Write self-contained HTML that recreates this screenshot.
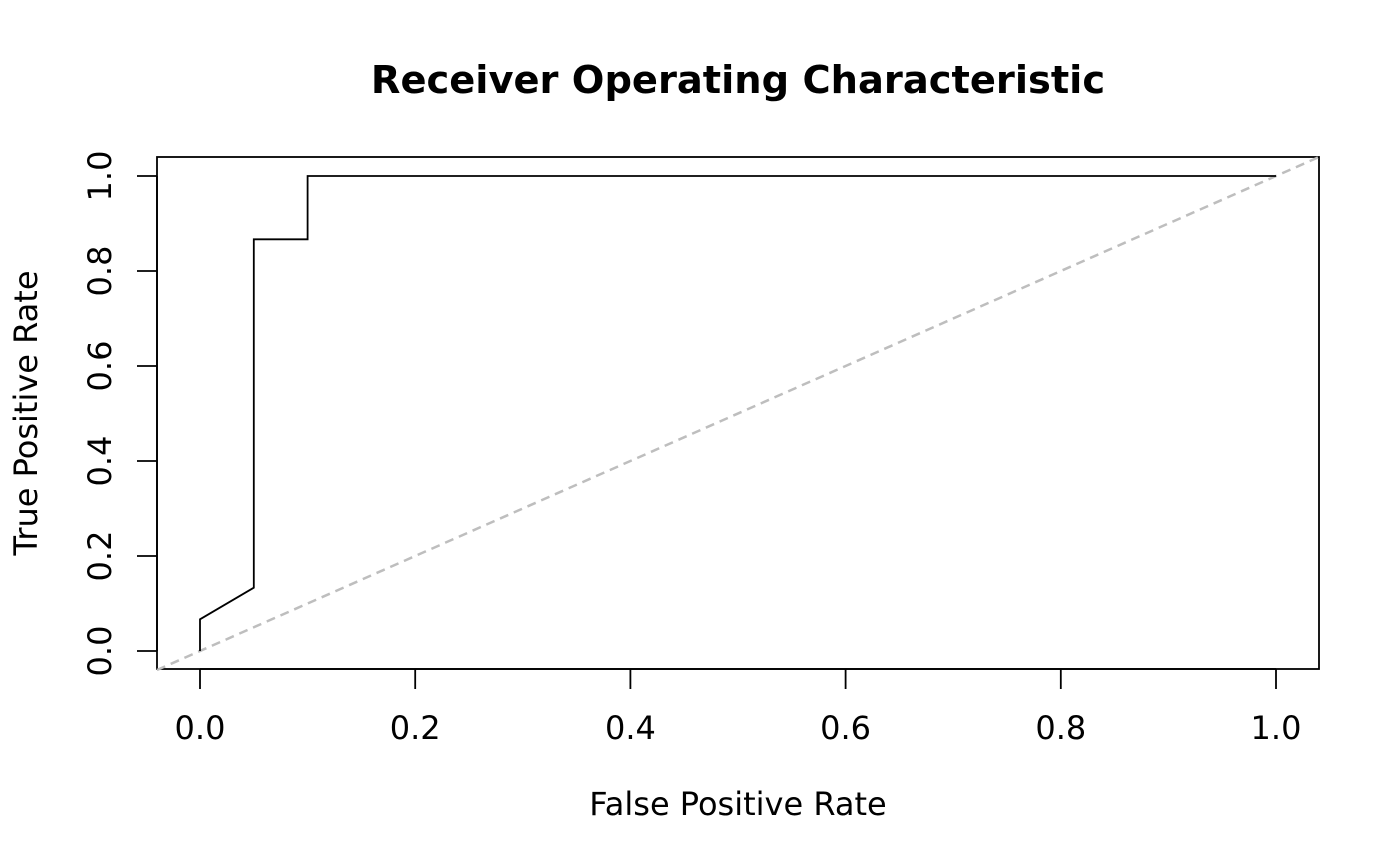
<!DOCTYPE html>
<html><head><meta charset="utf-8"><style>
html,body{margin:0;padding:0;background:#fff}
svg{display:block;font-family:"DejaVu Sans","Liberation Sans",sans-serif}
</style></head><body>
<svg id="chart" width="1400" height="866" viewBox="0 0 1400 866">
<text x="738" y="93" text-anchor="middle" style="font-size:38.4px" font-weight="bold">Receiver Operating Characteristic</text>
<rect x="157" y="157" width="1162" height="512" fill="none" stroke="#000" stroke-width="1.8"/>
<g id="xaxis"></g>
<g id="yaxis"></g>
<text x="738" y="815" text-anchor="middle" style="font-size:32px">False Positive Rate</text>
<text transform="translate(37,413) rotate(-90)" text-anchor="middle" style="font-size:32px">True Positive Rate</text>
<g id="marks"></g>
</svg>
<script>
const fprValues=[0,0,0.05,0.05,0.1,0.1,1];
const tprValues=[0,0.0667,0.1333,0.8667,0.8667,1,1];
const xTicks=[0,0.2,0.4,0.6,0.8,1];
const yTicks=[0,0.2,0.4,0.6,0.8,1];
const xTickLabels=["0.0","0.2","0.4","0.6","0.8","1.0"];
const yTickLabels=["0.0","0.2","0.4","0.6","0.8","1.0"];
const NS="http://www.w3.org/2000/svg";
const sx=v=>200+v*1076, sy=v=>651-v*475;
function mk(tag,attrs,parent){const e=document.createElementNS(NS,tag);for(const k in attrs)e.setAttribute(k,attrs[k]);parent.appendChild(e);return e;}
const xa=document.getElementById('xaxis'), ya=document.getElementById('yaxis'), marks=document.getElementById('marks');
mk('line',{x1:sx(0),x2:sx(1),y1:669,y2:669,stroke:'#000','stroke-width':1.8},xa);
xTicks.forEach((v,i)=>{
 const t=mk('line',{x1:sx(v),x2:sx(v),y1:669,y2:689,stroke:'#000','stroke-width':1.8},xa);
 
 
 const l=mk('text',{x:sx(v),y:739,'text-anchor':'middle',style:'font-size:32px'},xa);l.textContent=xTickLabels[i];
 
 
});
mk('line',{x1:157,x2:157,y1:sy(0),y2:sy(1),stroke:'#000','stroke-width':1.8},ya);
yTicks.forEach((v,i)=>{
 const t=mk('line',{x1:137,x2:157,y1:sy(v),y2:sy(v),stroke:'#000','stroke-width':1.8},ya);
 
 
 const l=mk('text',{transform:`translate(111,${sy(v)}) rotate(-90)`,'text-anchor':'middle',style:'font-size:32px'},ya);l.textContent=yTickLabels[i];
 
 
});
const diag=mk('line',{x1:sx(-0.04),y1:sy(-0.04),x2:sx(1.04),y2:sy(1.04),stroke:'#bebebe','stroke-width':2.5,'stroke-dasharray':'9,6'},marks);


const roc=mk('polyline',{points:fprValues.map((x,i)=>sx(x)+','+sy(tprValues[i])).join(' '),fill:'none',stroke:'#000','stroke-width':1.8},marks);


</script>
</body></html>
